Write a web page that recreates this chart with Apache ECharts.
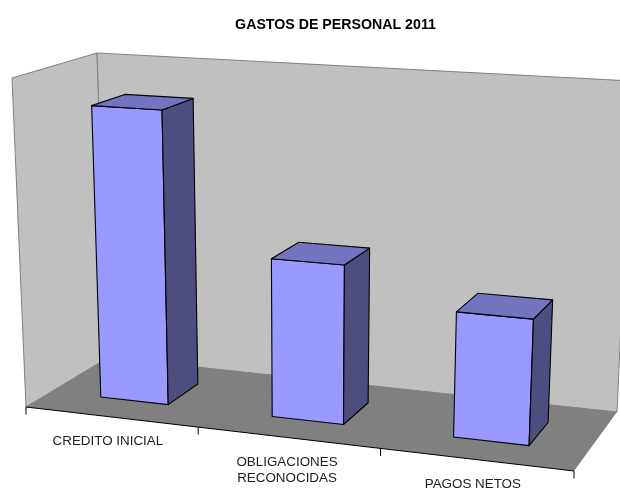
<!DOCTYPE html>
<html>
<head>
<meta charset="utf-8">
<style>html,body{margin:0;padding:0;background:#fff}#c{width:620px;height:488px}</style>
<script src="https://cdn.jsdelivr.net/npm/echarts@6/dist/echarts.min.js"></script>
</head>
<body>
<div id="c"></div>
<script>
var chartTitle = 'GASTOS DE PERSONAL 2011';
var categories = ['CREDITO INICIAL', 'OBLIGACIONES\nRECONOCIDAS', 'PAGOS NETOS'];
var values = [89.9, 47.3, 36.5];
var axisMax = 100;

// perspective box: corners of floor and ceiling as [left-front, left-back, right-back, right-front]
var floorBox = [[26,407],[108,357.5],[617,412],[574,471]];
var ceilBox = [[12,78],[97,53],[632,81],[586,113]];
var labelDrop = [16, 17, 17];
var labelShift = [-3, -1, -3];

function homography(q) {
  var x0=q[0][0],y0=q[0][1],x1=q[3][0],y1=q[3][1],x2=q[2][0],y2=q[2][1],x3=q[1][0],y3=q[1][1];
  var dx1=x1-x2,dx2=x3-x2,sx=x0-x1+x2-x3,dy1=y1-y2,dy2=y3-y2,sy=y0-y1+y2-y3;
  var den=dx1*dy2-dx2*dy1;
  var g=(sx*dy2-dx2*sy)/den,h=(dx1*sy-sx*dy1)/den;
  var a=x1-x0+g*x1,b=x3-x0+h*x3,c=x0,d=y1-y0+g*y1,e=y3-y0+h*y3,f=y0;
  return function(u,v){var w=g*u+h*v+1;return [(a*u+b*v+c)/w,(d*u+e*v+f)/w];};
}
var hFloor = homography(floorBox), hCeil = homography(ceilBox);
// u along categories (0..1), v depth (0 front..1 back), t height (0..1)
function project(u, v, t) {
  var p = hFloor(u, v), q = hCeil(u, v);
  return [p[0] + (q[0]-p[0])*t, p[1] + (q[1]-p[1])*t];
}
// bars converge to a vertical vanishing point far below the chart
var VANISH_X = 305, VANISH_DIST = 6500;
function projectBar(u, v, t) {
  var f = project(u, v, 0), p = project(u, v, t);
  var x = f[0] - 0.8;
  return [x + (x - VANISH_X) * (f[1] - p[1]) / VANISH_DIST, p[1]];
}
function poly(points, fill, stroke, lw) {
  return {type:'polygon', shape:{points:points},
    style:{fill:fill, stroke:stroke||null, lineWidth:lw||0, lineJoin:'round'}};
}
function line(a, b, stroke, lw) {
  return {type:'line', shape:{x1:a[0],y1:a[1],x2:b[0],y2:b[1]}, style:{stroke:stroke, lineWidth:lw}};
}

var BAR_WIDTH = 0.4, BAR_D0 = 0.3, BAR_D1 = 0.7;

function renderBox(params, api) {
  var kids = [];
  var wall='#C0C0C0', edge='#808080';
  kids.push(poly([project(0,0,0),project(0,1,0),project(0,1,1),project(0,0,1)], wall, edge, 1));
  kids.push(poly([project(0,1,0),project(1,1,0),project(1,1,1),project(0,1,1)], wall, edge, 1));
  kids.push(poly([project(0,0,0),project(1,0,0),project(1,1,0),project(0,1,0)], '#808080', null, 0));
  kids.push(line(project(0,0,0),project(1,0,0),'#000',1));
  for (var i=0;i<=categories.length;i++){
    var p=project(i/categories.length,0,0);
    kids.push(line(p,[p[0],p[1]+7.5],'#000',1));
  }
  return {type:'group', children:kids};
}
function renderBar(params, api) {
  var r = params.coordSys;
  var c = api.coord([api.value(0), api.value(1)]);
  var band = api.size([1,0])[0];
  var ul = (c[0]-BAR_WIDTH*band/2-r.x)/r.width, ur = (c[0]+BAR_WIDTH*band/2-r.x)/r.width;
  var t = 1-(c[1]-r.y)/r.height;
  var a0=projectBar(ul,BAR_D0,0), b0=projectBar(ur,BAR_D0,0), c0=projectBar(ur,BAR_D1,0);
  var a1=projectBar(ul,BAR_D0,t), b1=projectBar(ur,BAR_D0,t), c1=projectBar(ur,BAR_D1,t), d1=projectBar(ul,BAR_D1,t);
  var k='#000', w=1.1;
  return {type:'group', children:[
    poly([a1,b1,b0,a0],'#9999FF',k,w),
    poly([b1,c1,c0,b0],'#4D4D80',k,w),
    poly([a1,d1,c1,b1],'#7373BF',k,w)
  ]};
}
function renderLabel(params, api) {
  var r = params.coordSys, i = api.value(0);
  var c = api.coord([i, 0]);
  var p = project((c[0]-r.x)/r.width, 0, 0);
  return {type:'text', style:{text:categories[i], x:p[0]+labelShift[i], y:p[1]+labelDrop[i],
    align:'center', verticalAlign:'top', fill:'#222', lineHeight:16,
    font:'13.4px "Liberation Sans", Arial, sans-serif'}};
}

var barData = categories.map(function(c,i){return [i, values[i]];});
var chart = echarts.init(document.getElementById('c'));
chart.setOption({
  animation:false,
  backgroundColor:'#fff',
  title:{text:chartTitle, left:330.5, top:13, textAlign:'center',
    textStyle:{fontFamily:'"Liberation Sans", Arial, sans-serif', fontSize:14.2, fontWeight:'bold', color:'#000'}},
  grid:{left:0,right:0,top:0,bottom:0},
  xAxis:{type:'category', data:categories, show:false},
  yAxis:{type:'value', min:0, max:axisMax, show:false},
  series:[
    {type:'custom', z:1, clip:false, silent:true, data:[[0,0]], encode:{x:0,y:1}, renderItem:renderBox},
    {type:'custom', z:2, clip:false, silent:true, data:barData, encode:{x:0,y:1}, renderItem:renderBar},
    {type:'custom', z:3, clip:false, silent:true, data:barData, encode:{x:0,y:1}, renderItem:renderLabel}
  ]
});
</script>
</body>
</html>
